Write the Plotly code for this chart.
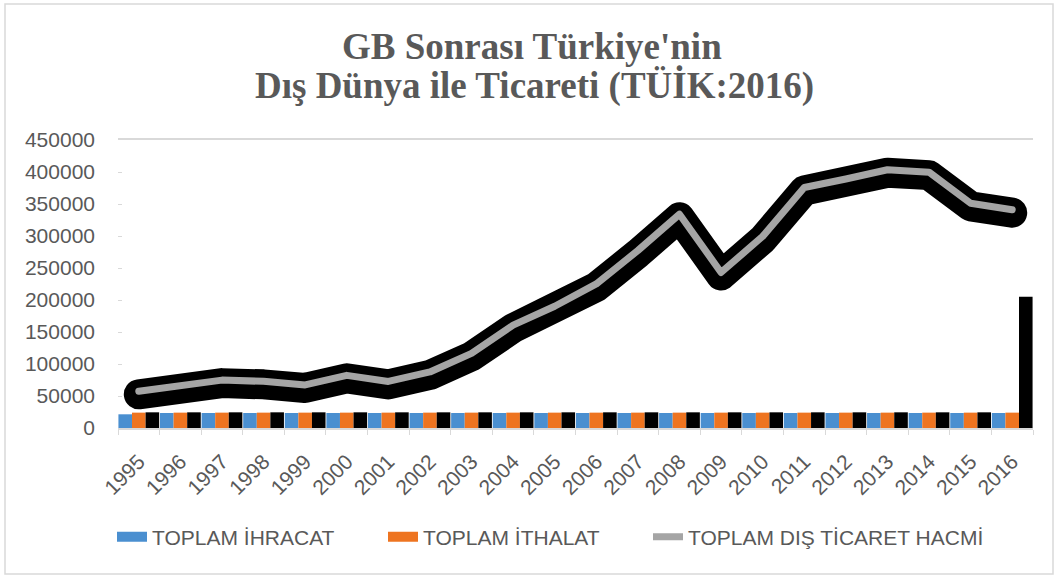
import plotly.graph_objects as go

years = [str(y) for y in range(1995, 2017)]
ihracat = [21400] + [23400] * 21
ithalat = [24000] * 22
siyah = [24500] * 21 + [205000]
hacim = [57346, 66851, 74820, 72895, 67258, 82278, 72733, 87613, 116593, 160707,
         190251, 225111, 277335, 333991, 243071, 299428, 375749, 389007, 403464,
         399787, 351073, 341148]
y_ticks = list(range(0, 450001, 50000))

BLUE = "#4a8fd0"
ORANGE = "#ee7420"
GRAY = "#a5a5a5"
TXT = "#595959"

# plot area in pixels
L, R, T, B = 118, 1033, 140, 428
W = R - L
H = B - T
def px(x):
    return (x - L) / W
def py(y):
    return (B - y) / H

fig = go.Figure()
fig.add_trace(go.Bar(x=years, y=ihracat, name="TOPLAM İHRACAT", showlegend=False,
                     marker=dict(color=BLUE, line=dict(width=0))))
fig.add_trace(go.Bar(x=years, y=ithalat, name="TOPLAM İTHALAT", showlegend=False,
                     marker=dict(color=ORANGE, line=dict(width=0))))
fig.add_trace(go.Bar(x=years, y=siyah, name="", showlegend=False,
                     marker=dict(color="#000000", line=dict(width=0))))
# legend swatches
fig.add_trace(go.Scatter(x=[None], y=[None], mode="lines", name="TOPLAM İHRACAT",
                         legend="legend", line=dict(color=BLUE, width=13)))
fig.add_trace(go.Scatter(x=[None], y=[None], mode="lines", name="TOPLAM İTHALAT",
                         legend="legend2", line=dict(color=ORANGE, width=13)))
# shadow of total line
fig.add_trace(go.Scatter(x=years, y=hacim, mode="lines", showlegend=False,
                         yaxis="y2", line=dict(color="#000000", width=30)))
fig.add_trace(go.Scatter(x=years, y=hacim, mode="lines", name="TOPLAM DIŞ TİCARET HACMİ",
                         legend="legend3", yaxis="y3", line=dict(color=GRAY, width=7)))

leg_font = dict(family="Liberation Sans Narrow, Liberation Sans", size=21, color=TXT)
def leg(xpix):
    return dict(orientation="h", x=px(xpix), xanchor="left", y=py(537), yanchor="middle",
                font=leg_font, bgcolor="rgba(0,0,0,0)", itemwidth=30)

fig.update_layout(
    width=1058, height=578,
    margin=dict(l=L, r=1058 - R, t=T, b=578 - B, autoexpand=False),
    paper_bgcolor="white", plot_bgcolor="white",
    barmode="group", bargap=0.02, bargroupgap=0,
    showlegend=True,
    legend=leg(112), legend2=leg(383), legend3=leg(648),
    xaxis=dict(type="category", tickangle=-45, showgrid=False, automargin=False,
               showline=True, linecolor="#d9d9d9", linewidth=2, mirror=True,
               ticks="outside", tickson="boundaries", ticklen=5, tickcolor="#d9d9d9",
               ticklabelstandoff=11,
               tickfont=dict(family="Liberation Sans", size=21, color=TXT)),
    yaxis=dict(range=[0, 450000], tickvals=y_ticks, ticktext=[str(v) for v in y_ticks],
               showgrid=False, zeroline=False, showline=False, automargin=False,
               ticks="inside", ticklen=4, tickcolor="#d9d9d9", ticklabelstandoff=22,
               tickfont=dict(family="Liberation Sans", size=21, color=TXT)),
    yaxis2=dict(range=[4700, 454700], overlaying="y", visible=False),
    yaxis3=dict(range=[0, 450000], overlaying="y", visible=False),
    annotations=[
        dict(text="<b>GB Sonrası Türkiye'nin</b>", xref="paper", yref="paper",
             x=px(532), y=py(46), xanchor="center", yanchor="middle",
             showarrow=False,
             font=dict(family="Liberation Serif", size=37, color=TXT)),
        dict(text="<b>Dış Dünya ile Ticareti (TÜİK:2016)</b>", xref="paper", yref="paper",
             x=px(534), y=py(86), xanchor="center", yanchor="middle",
             showarrow=False,
             font=dict(family="Liberation Serif", size=37, color=TXT)),
    ],
    shapes=[dict(type="rect", xref="paper", yref="paper",
                 x0=px(5), x1=px(1053), y0=py(574), y1=py(4),
                 line=dict(color="#d9d9d9", width=1.5), fillcolor="rgba(0,0,0,0)")],
)

post = ("document.body.style.margin='0';"
        "document.querySelectorAll('.scatterlayer .js-line').forEach(function(p){"
        "p.style.strokeLinecap='round';p.style.strokeLinejoin='round';});")
fig.write_html("out.html", post_script=post, config={"displayModeBar": False})
